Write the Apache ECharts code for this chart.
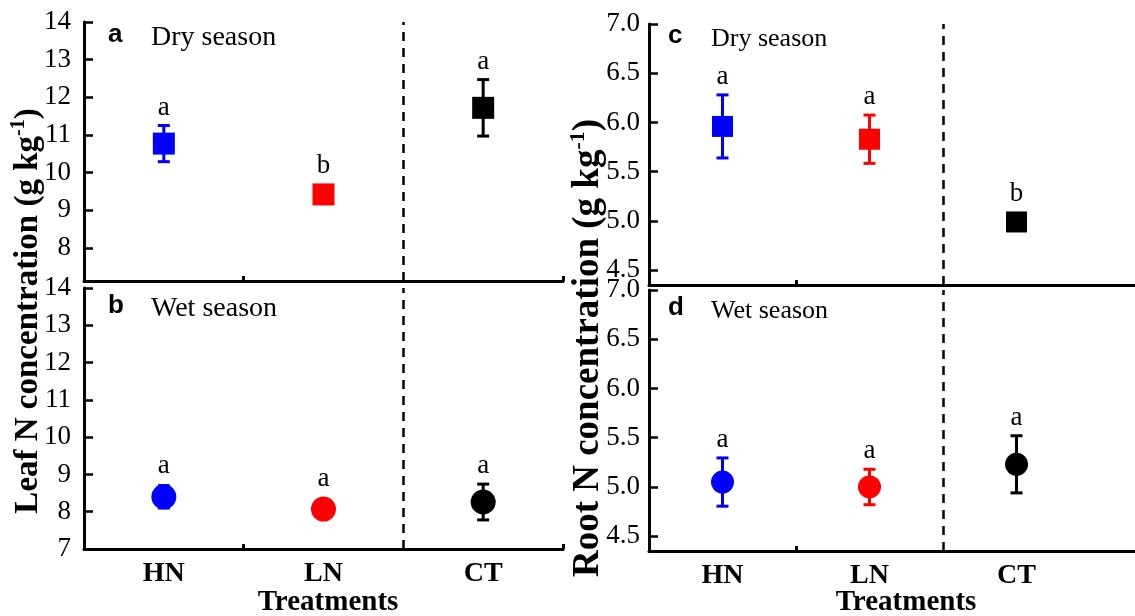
<!DOCTYPE html>
<html>
<head>
<meta charset="utf-8">
<script src="https://cdn.jsdelivr.net/npm/echarts@6/dist/echarts.min.js"></script>
<style>
  html, body { margin: 0; padding: 0; background: #fff; }
  #chart { width: 1135px; height: 616px; }
</style>
</head>
<body>
<div id="chart"></div>
<script>
(function () {
  "use strict";

  // data
  var treatments = ["HN", "LN", "CT"];
  var colors = ["#0000ff", "#ff0000", "#000000"];

  var leafDryMean = [10.77, 9.42, 11.72];
  var leafDryErr = [0.48, 0.15, 0.75];
  var leafDryLetters = ["a", "b", "a"];

  var leafWetMean = [8.40, 8.07, 8.26];
  var leafWetErr = [0.30, 0.15, 0.48];
  var leafWetLetters = ["a", "a", "a"];

  var rootDryMean = [5.96, 5.83, 4.99];
  var rootDryErr = [0.32, 0.245, 0.05];
  var rootDryLetters = ["a", "a", "b"];

  var rootWetMean = [5.05, 5.00, 5.23];
  var rootWetErr = [0.245, 0.18, 0.29];
  var rootWetLetters = ["a", "a", "a"];

  var leafTicksDry = [8, 9, 10, 11, 12, 13, 14];
  var leafTicksWet = [7, 8, 9, 10, 11, 12, 13, 14];
  var rootTicks = [4.5, 5.0, 5.5, 6.0, 6.5, 7.0];

  var SERIF = "Liberation Serif, Times New Roman, serif";
  var SANS = "Liberation Sans, Arial, sans-serif";

  var grids = [
    { left: 84, top: 22, width: 479, height: 259 },
    { left: 84, top: 288, width: 479, height: 261 },
    { left: 649, top: 24, width: 486, height: 261 },
    { left: 649, top: 290, width: 486, height: 261 }
  ];

  function xAxis(idx, max, ticks, showLabels) {
    return {
      type: "value", gridIndex: idx, min: -0.5, max: max,
      axisLine: { show: true, onZero: false, lineStyle: { color: "#000", width: 3 } },
      axisTick: { show: true, inside: true, length: 5, customValues: ticks,
        lineStyle: { color: "#000", width: 3 } },
      axisLabel: { show: showLabels, customValues: [0, 1, 2], margin: 11,
        formatter: function (v) { return treatments[Math.round(v)]; },
        color: "#000", fontFamily: SERIF, fontWeight: "bold", fontSize: 28 },
      splitLine: { show: false }
    };
  }

  function yAxis(idx, min, max, ticks, digits, margin) {
    return {
      type: "value", gridIndex: idx, min: min, max: max,
      axisLine: { show: true, onZero: false, lineStyle: { color: "#000", width: 3 } },
      axisTick: { show: true, inside: true, length: 9, customValues: ticks,
        lineStyle: { color: "#000", width: 2.5 } },
      axisLabel: { customValues: ticks, margin: margin, color: "#000",
        fontFamily: SERIF, fontSize: 27,
        formatter: function (v) { return v.toFixed(digits); } },
      splitLine: { show: false }
    };
  }

  function pointSeries(idx, means, symbol, size) {
    return {
      type: "scatter", xAxisIndex: idx, yAxisIndex: idx, z: 3,
      symbol: symbol, symbolSize: size,
      data: means.map(function (m, i) {
        return { value: [i, m], itemStyle: { color: colors[i], opacity: 1 } };
      }),
      markLine: {
        silent: true, symbol: "none", label: { show: false },
        lineStyle: { color: "#000", width: 2.5, type: [9, 7] },
        data: [{ xAxis: 1.5 }]
      }
    };
  }

  function errorSeries(idx, means, errs, letters, half) {
    return {
      type: "custom", xAxisIndex: idx, yAxisIndex: idx, z: 2,
      data: means.map(function (m, i) { return [i, m, errs[i]]; }),
      renderItem: function (params, api) {
        var i = api.value(0), m = api.value(1), e = api.value(2);
        var hi = api.coord([i, m + e]);
        var lo = api.coord([i, m - e]);
        var mid = api.coord([i, m]);
        var c = colors[params.dataIndex];
        var cap = 6;
        var top = Math.min(hi[1], mid[1] - half);
        return {
          type: "group",
          children: [
            { type: "line", shape: { x1: hi[0], y1: hi[1], x2: lo[0], y2: lo[1] },
              style: { stroke: c, lineWidth: 3 } },
            { type: "line", shape: { x1: hi[0] - cap, y1: hi[1], x2: hi[0] + cap, y2: hi[1] },
              style: { stroke: c, lineWidth: 3 } },
            { type: "line", shape: { x1: lo[0] - cap, y1: lo[1], x2: lo[0] + cap, y2: lo[1] },
              style: { stroke: c, lineWidth: 3 } },
            { type: "text", x: mid[0], y: top - 18,
              style: { text: letters[params.dataIndex], fill: "#000",
                font: "27px " + SERIF, align: "center", verticalAlign: "middle" } }
          ]
        };
      }
    };
  }

  function panelText(x, y, letter, label, size) {
    return [
      { type: "text", x: x, y: y,
        style: { text: letter, font: "bold 26px " + SANS, fill: "#000",
          verticalAlign: "middle" } },
      { type: "text", x: x + 43, y: y + 3,
        style: { text: label, font: size + "px " + SERIF, fill: "#000",
          verticalAlign: "middle" } }
    ];
  }

  function yTitle(x, y, what, size) {
    return {
      type: "text", x: x, y: y, rotation: Math.PI / 2,
      style: {
        text: "{b|" + what + " N concentration (g kg}{s|-1}{b|)}",
        align: "center", verticalAlign: "middle",
        rich: {
          b: { fontFamily: SERIF, fontWeight: "bold", fontSize: size, fill: "#000",
            lineHeight: size + 4 },
          s: { fontFamily: SERIF, fontWeight: "bold", fontSize: Math.round(size * 0.6),
            fill: "#000", padding: [0, 0, Math.round(size * 0.55), 0], lineHeight: size + 4 }
        }
      }
    };
  }

  var chart = echarts.init(document.getElementById("chart"));
  chart.setOption({
    animation: false,
    backgroundColor: "#fff",
    grid: grids,
    xAxis: [
      xAxis(0, 2.5, [0.5, 2.5], false),
      xAxis(1, 2.5, [0.5, 2.5], true),
      xAxis(2, 2.806, [0.5], false),
      xAxis(3, 2.806, [0.5], true)
    ],
    yAxis: [
      yAxis(0, 7.12, 14, leafTicksDry, 0, 13),
      yAxis(1, 7, 14, leafTicksWet, 0, 13),
      yAxis(2, 4.35, 7, rootTicks, 1, 9),
      yAxis(3, 4.35, 7, rootTicks, 1, 9)
    ],
    series: [
      pointSeries(0, leafDryMean, "rect", 22),
      errorSeries(0, leafDryMean, leafDryErr, leafDryLetters, 11),
      pointSeries(1, leafWetMean, "circle", 25),
      errorSeries(1, leafWetMean, leafWetErr, leafWetLetters, 12.5),
      pointSeries(2, rootDryMean, "rect", 21),
      errorSeries(2, rootDryMean, rootDryErr, rootDryLetters, 10.5),
      pointSeries(3, rootWetMean, "circle", 23),
      errorSeries(3, rootWetMean, rootWetErr, rootWetLetters, 11.5)
    ],
    graphic: [].concat(
      panelText(108, 35, "a", "Dry season", 28),
      panelText(108, 306, "b", "Wet season", 28),
      panelText(668, 36, "c", "Dry season", 26),
      panelText(668, 308, "d", "Wet season", 26),
      [
        yTitle(28, 311, "Leaf", 33),
        yTitle(588, 348, "Root", 37),
        { type: "text", x: 328, y: 603,
          style: { text: "Treatments", font: "bold 29px " + SERIF, fill: "#000",
            align: "center", verticalAlign: "middle" } },
        { type: "text", x: 906, y: 603,
          style: { text: "Treatments", font: "bold 29px " + SERIF, fill: "#000",
            align: "center", verticalAlign: "middle" } }
      ]
    )
  });
})();
</script>
</body>
</html>
